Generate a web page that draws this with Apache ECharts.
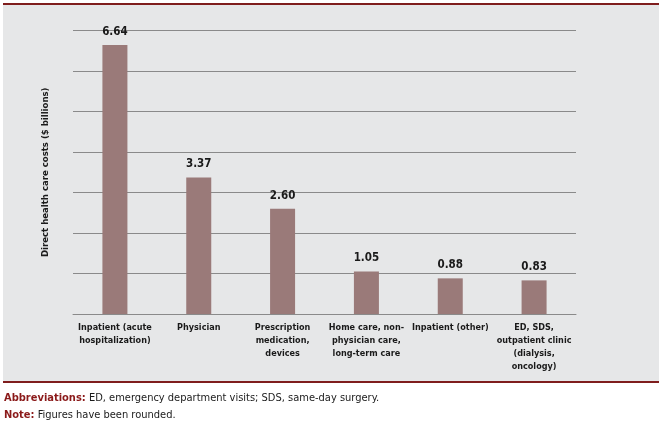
<!DOCTYPE html>
<html>
<head>
<meta charset="utf-8">
<script src="https://cdn.jsdelivr.net/npm/echarts@6/dist/echarts.min.js"></script>
<style>
html,body{margin:0;padding:0;background:#ffffff;}
#c{width:665px;height:431px;}
</style>
</head>
<body>
<div id="c"></div>
<script>
var categories = [
  "Inpatient (acute\nhospitalization)",
  "Physician",
  "Prescription\nmedication,\ndevices",
  "Home care, non-\nphysician care,\nlong-term care",
  "Inpatient (other)",
  "ED, SDS,\noutpatient clinic\n(dialysis,\noncology)"
];
var costs = [6.64, 3.37, 2.60, 1.05, 0.88, 0.83];
var yAxisTitle = "Direct health care costs ($ billions)";
var footAbbrevLabel = "Abbreviations:";
var footAbbrevText = " ED, emergency department visits; SDS, same-day surgery.";
var footNoteLabel = "Note:";
var footNoteText = " Figures have been rounded.";

var FONT = "'DejaVu Sans Condensed', 'Liberation Sans Narrow', 'Liberation Sans', sans-serif";
var chart = echarts.init(document.getElementById('c'), null, {renderer: 'canvas'});
chart.setOption({
  backgroundColor: '#ffffff',
  animation: false,
  graphic: [
    {type: 'rect', z: -10, silent: true, shape: {x: 3, y: 5, width: 656, height: 376}, style: {fill: '#e6e7e8'}},
    {type: 'rect', z: -5, silent: true, shape: {x: 3, y: 3, width: 656, height: 2}, style: {fill: '#7f1d1d'}},
    {type: 'rect', z: -5, silent: true, shape: {x: 3, y: 381, width: 656, height: 2}, style: {fill: '#7f1d1d'}},
    {type: 'text', left: 4, top: 390, silent: true, style: {
      text: '{r|' + footAbbrevLabel + '}{k|' + footAbbrevText + '}\n{r|' + footNoteLabel + '}{k|' + footNoteText + '}',
      font: '11px ' + FONT, lineHeight: 17,
      rich: {
        r: {fill: '#8b1a1a', fontFamily: FONT, fontSize: 11, fontWeight: 'bold', lineHeight: 17},
        k: {fill: '#1a1a1a', fontFamily: FONT, fontSize: 11, lineHeight: 17}
      }
    }}
  ],
  grid: {left: 73, right: 89, top: 30.5, bottom: 117, containLabel: false},
  xAxis: {
    type: 'category',
    data: categories,
    axisLine: {show: true, lineStyle: {color: '#8a8a8a', width: 1}},
    axisTick: {show: false},
    axisLabel: {
      interval: 0, color: '#1a1a1a', fontFamily: FONT, fontSize: 9, fontWeight: 'bold',
      lineHeight: 13, margin: 7
    }
  },
  yAxis: {
    type: 'value', min: 0, max: 7, interval: 1,
    name: yAxisTitle, nameLocation: 'middle', nameGap: 22,
    nameTextStyle: {color: '#1a1a1a', fontFamily: FONT, fontSize: 9.5, fontWeight: 'bold'},
    axisLine: {show: false}, axisTick: {show: false},
    axisLabel: {show: false},
    splitLine: {show: true, lineStyle: {color: '#8a8a8a', width: 1}}
  },
  series: [{
    type: 'bar',
    data: costs,
    barWidth: 25,
    itemStyle: {color: '#9a7a79'},
    label: {
      show: true, position: 'top', distance: 7,
      formatter: function (p) { return p.value.toFixed(2); },
      color: '#1a1a1a', fontFamily: FONT, fontSize: 11.5, fontWeight: 'bold'
    }
  }]
});
</script>
</body>
</html>
